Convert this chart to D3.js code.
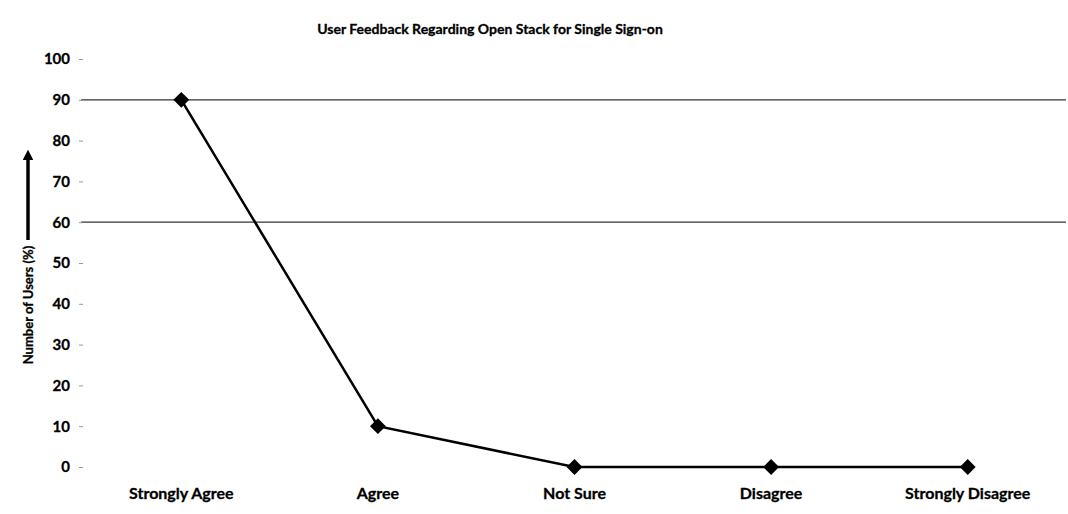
<!DOCTYPE html>
<html>
<head>
<meta charset="utf-8">
<script src="https://cdn.jsdelivr.net/npm/d3@7"></script>
<style>
  body { margin: 0; background: #fff; }
  svg text { font-family: Lato, "Open Sans", sans-serif; font-weight: bold; fill: #000; stroke: #000; stroke-width: 0.3px; }
</style>
</head>
<body>
<svg width="1068" height="514"></svg>
<script>
// chart values
const categories = ["Strongly Agree", "Agree", "Not Sure", "Disagree", "Strongly Disagree"];
const values = [90, 10, 0, 0, 0];
const yTicks = [0, 10, 20, 30, 40, 50, 60, 70, 80, 90, 100];
const gridValues = [60, 90];

const svg = d3.select("svg");
const margin = { top: 59, right: 2, bottom: 47, left: 83 };
const width = +svg.attr("width") - margin.left - margin.right;
const height = +svg.attr("height") - margin.top - margin.bottom;

const g = svg.append("g")
  .attr("transform", `translate(${margin.left},${margin.top})`);

const x = d3.scaleBand()
  .domain(categories)
  .range([0, width]);

const y = d3.scaleLinear()
  .domain([0, 100])
  .range([height, 0]);

// gridlines (only the ones still visible on the scan)
g.selectAll(".grid")
  .data(gridValues)
  .enter().append("line")
  .attr("class", "grid")
  .attr("x1", -2)
  .attr("x2", width)
  .attr("y1", d => y(d))
  .attr("y2", d => y(d))
  .attr("stroke", "#333")
  .attr("stroke-width", 1.2);

// y axis
const yAxis = g.append("g")
  .call(d3.axisLeft(y).tickValues(yTicks).tickSize(4).tickPadding(9));
yAxis.select(".domain").remove();
yAxis.selectAll(".tick line").attr("stroke", "#999");
yAxis.selectAll("text").style("font-size", "15px");

// x axis
const xAxis = g.append("g")
  .attr("transform", `translate(0,${height})`)
  .call(d3.axisBottom(x).tickSize(0).tickPadding(21));
xAxis.select(".domain").remove();
xAxis.selectAll("text").style("font-size", "16px");

// line
const line = d3.line()
  .x((d, i) => x(categories[i]) + x.bandwidth() / 2)
  .y(d => y(d));

g.append("path")
  .datum(values)
  .attr("fill", "none")
  .attr("stroke", "#000")
  .attr("stroke-width", 2.5)
  .attr("d", line);

g.selectAll(".marker")
  .data(values)
  .enter().append("path")
  .attr("class", "marker")
  .attr("transform", (d, i) => `translate(${x(categories[i]) + x.bandwidth() / 2},${y(d)})`)
  .attr("d", d3.symbol(d3.symbolDiamond2, 160)())
  .attr("fill", "#000");

// title
svg.append("text")
  .attr("x", 490)
  .attr("y", 34)
  .attr("text-anchor", "middle")
  .style("font-size", "14px")
  .text("User Feedback Regarding Open Stack for Single Sign-on");

// y label + arrow
svg.append("text")
  .attr("transform", "translate(33,305) rotate(-90)")
  .attr("text-anchor", "middle")
  .style("font-size", "13px")
  .text("Number of Users (%)");

svg.append("defs").append("marker")
  .attr("id", "arrow")
  .attr("viewBox", "0 0 10 10")
  .attr("refX", 2).attr("refY", 5)
  .attr("markerWidth", 3).attr("markerHeight", 3)
  .attr("orient", "auto")
  .append("path")
  .attr("d", "M0,0 L10,5 L0,10 Z")
  .attr("fill", "#000");

svg.append("line")
  .attr("x1", 28).attr("x2", 28)
  .attr("y1", 240).attr("y2", 158)
  .attr("stroke", "#000")
  .attr("stroke-width", 3.5)
  .attr("marker-end", "url(#arrow)");
</script>
</body>
</html>
